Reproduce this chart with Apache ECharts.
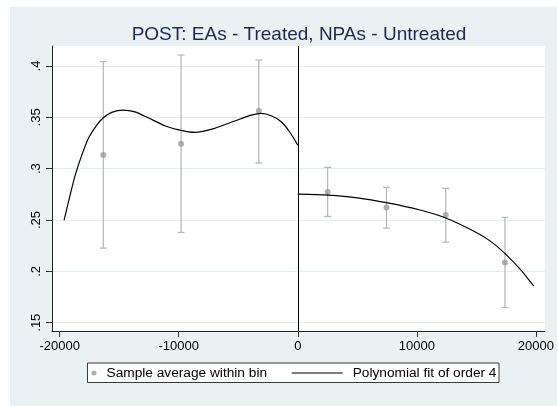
<!DOCTYPE html>
<html><head><meta charset="utf-8">
<script src="https://cdn.jsdelivr.net/npm/echarts@6/dist/echarts.min.js"></script>
<style>html,body{margin:0;padding:0;background:#fff}#c{width:557px;height:406px}</style>
</head><body><div id="c"></div>
<script>
// Bin averages with confidence intervals
const binX = [-16330, -9800, -3270, 2510, 7450, 12430, 17400];
const binMean = [0.3133, 0.3243, 0.3561, 0.2772, 0.2623, 0.2548, 0.2087];
const ciLow = [0.2226, 0.2379, 0.3055, 0.2535, 0.2421, 0.2285, 0.1648];
const ciHigh = [0.4042, 0.4107, 0.4058, 0.3013, 0.2818, 0.2808, 0.2525];
// Polynomial fit
const fitLeftX = [-19623, -19120, -18690, -18140, -17590, -16880, -16330, -15630, -14660, -13680, -12560, -11160, -9910, -8650, -6980, -5300, -3900, -3065, -2230, -1390, -695, 0];
const fitLeftY = [0.2499, 0.2742, 0.2937, 0.3132, 0.3295, 0.3425, 0.3496, 0.3549, 0.3571, 0.3554, 0.3496, 0.3418, 0.3376, 0.3354, 0.3393, 0.3464, 0.3522, 0.3539, 0.3515, 0.3457, 0.3360, 0.3230];
const fitRightX = [0, 2510, 5025, 7540, 10190, 12430, 14800, 16200, 17450, 18710, 19820];
const fitRightY = [0.2752, 0.2742, 0.2716, 0.2667, 0.2600, 0.2520, 0.2390, 0.2292, 0.2168, 0.2017, 0.1855];
// Axes
const xTicks = [-20000, -10000, 0, 10000, 20000];
const xTickLabels = ['-20000', '-10000', '0', '10000', '20000'];
const yTicks = [0.15, 0.2, 0.25, 0.3, 0.35, 0.4];
const yTickLabels = ['.15', '.2', '.25', '.3', '.35', '.4'];
const titleText = 'POST: EAs - Treated, NPAs - Untreated';
const nameDots = 'Sample average within bin';
const nameFit = 'Polynomial fit of order 4';

const FONT = '"Liberation Sans", Arial, Helvetica, sans-serif';
const chart = echarts.init(document.getElementById('c'), null, {renderer: 'canvas'});

const ciData = binX.map((x, i) => [x, ciLow[i], ciHigh[i]]);
const dotData = binX.map((x, i) => [x, binMean[i]]);
const leftData = fitLeftX.map((x, i) => [x, fitLeftY[i]]);
const rightData = fitRightX.map((x, i) => [x, fitRightY[i]]);

chart.setOption({
  animation: false,
  backgroundColor: '#EAF1F3',
  title: {
    text: titleText, left: 299, top: 24, textAlign: 'center', padding: 0,
    textStyle: {fontFamily: FONT, fontSize: 19, fontWeight: 'normal', color: '#1c2a50', lineHeight: 22}
  },
  graphic: [
    {type: 'rect', shape: {x: 0, y: 0, width: 557, height: 7}, style: {fill: '#fff'}, silent: true},
    {type: 'rect', shape: {x: 0, y: 0, width: 10, height: 406}, style: {fill: '#fff'}, silent: true},
    {type: 'rect', shape: {x: 87.5, y: 363, width: 411.5, height: 19.5}, style: {fill: '#fff', stroke: '#3a3a3a', lineWidth: 1}, silent: true, z: 0}
  ],
  legend: [
    {
      data: [{name: nameDots, icon: 'circle'}],
      left: 91.5, top: 366, padding: 0, itemWidth: 5, itemHeight: 5, z: 5,
      textStyle: {fontFamily: FONT, fontSize: 13.7, color: '#000', padding: [0, 0, 0, 5]},
      selectedMode: false
    },
    {
      data: [{name: nameFit, icon: 'rect'}],
      left: 291.7, top: 366, padding: 0, itemWidth: 51, itemHeight: 1, z: 5,
      textStyle: {fontFamily: FONT, fontSize: 13.7, color: '#000', padding: [0, 0, 0, 5]},
      selectedMode: false
    }
  ],
  grid: {left: 52, top: 46, width: 494, height: 285, show: true, backgroundColor: '#fff', borderWidth: 0, containLabel: false},
  xAxis: {
    type: 'value', min: -20640, max: 20750,
    axisLine: {show: true, onZero: false, lineStyle: {color: '#222', width: 1}},
    axisTick: {show: true, length: 6, customValues: xTicks, lineStyle: {color: '#333'}},
    axisLabel: {customValues: xTicks, margin: 9, fontFamily: FONT, fontSize: 13, color: '#000',
      formatter: v => xTickLabels[xTicks.indexOf(v)]},
    splitLine: {show: false}
  },
  yAxis: {
    type: 'value', min: 0.1419, max: 0.4195,
    axisLine: {show: true, onZero: false, lineStyle: {color: '#222', width: 1}},
    axisTick: {show: true, length: 6, customValues: yTicks, lineStyle: {color: '#333'}},
    axisLabel: {customValues: yTicks, rotate: 90, margin: 9, fontFamily: FONT, fontSize: 13, color: '#000',
      formatter: v => yTickLabels[yTicks.indexOf(v)]},
    splitLine: {show: true, lineStyle: {color: '#E3ECEF', width: 1}}
  },
  series: [
    {
      name: 'ci', type: 'custom', data: ciData, z: 3, silent: true,
      renderItem: (params, api) => {
        const x = api.value(0);
        const lo = api.coord([x, api.value(1)]);
        const hi = api.coord([x, api.value(2)]);
        const w = 3.5;
        const st = {stroke: '#b4b4b4', lineWidth: 1.2};
        return {type: 'group', children: [
          {type: 'line', shape: {x1: lo[0], y1: lo[1], x2: hi[0], y2: hi[1]}, style: st},
          {type: 'line', shape: {x1: lo[0] - w, y1: lo[1], x2: lo[0] + w, y2: lo[1]}, style: st},
          {type: 'line', shape: {x1: hi[0] - w, y1: hi[1], x2: hi[0] + w, y2: hi[1]}, style: st}
        ]};
      }
    },
    {
      name: nameDots, type: 'scatter', data: dotData, symbol: 'circle', symbolSize: 6, z: 4,
      itemStyle: {color: '#9c9c9c'}
    },
    {
      name: nameFit, type: 'line', data: leftData, smooth: 0.25, showSymbol: false, z: 5,
      lineStyle: {color: '#000', width: 1.2}, itemStyle: {color: '#000'},
      markLine: {symbol: 'none', silent: true, label: {show: false}, lineStyle: {color: '#000', width: 1, type: 'solid'}, data: [{xAxis: 0}]}
    },
    {
      name: nameFit, type: 'line', data: rightData, smooth: 0.25, showSymbol: false, z: 5,
      lineStyle: {color: '#000', width: 1.2}, itemStyle: {color: '#000'}
    }
  ]
});
</script></body></html>
